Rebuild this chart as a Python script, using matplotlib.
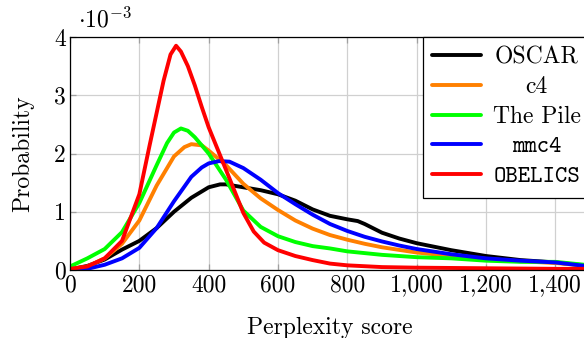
import matplotlib
matplotlib.use("Agg")
import matplotlib.pyplot as plt
from matplotlib.ticker import FuncFormatter, MultipleLocator
from matplotlib.transforms import Affine2D

plt.rcParams['mathtext.fontset'] = 'cm'
plt.rcParams['axes.unicode_minus'] = False
SERIF = 'cmr10'
MONO = 'cmtt10'
FS = 17

# Data (probability in units of 1e-3)
oscar_x = [0, 50, 100, 150, 200, 250, 300, 350, 400, 433, 450, 500, 550, 600, 650, 700, 750, 800, 830, 850, 900, 950, 1000, 1050, 1100, 1200, 1300, 1400, 1500]
oscar_y = [0.01, 0.07, 0.18, 0.35, 0.5, 0.72, 1.0, 1.24, 1.42, 1.47, 1.47, 1.42, 1.37, 1.3, 1.19, 1.04, 0.93, 0.87, 0.84, 0.79, 0.64, 0.54, 0.46, 0.40, 0.34, 0.24, 0.17, 0.13, 0.07]

c4_x = [0, 50, 100, 150, 200, 250, 300, 330, 350, 380, 400, 450, 500, 550, 600, 650, 700, 750, 800, 850, 900, 1000, 1100, 1200, 1300, 1400, 1500]
c4_y = [0.01, 0.06, 0.2, 0.45, 0.85, 1.45, 1.95, 2.11, 2.16, 2.14, 2.05, 1.8, 1.48, 1.23, 1.03, 0.85, 0.71, 0.6, 0.52, 0.45, 0.39, 0.3, 0.24, 0.19, 0.15, 0.12, 0.07]

pile_x = [0, 50, 100, 150, 200, 250, 280, 300, 320, 340, 360, 400, 450, 500, 550, 600, 650, 700, 750, 800, 900, 1000, 1100, 1200, 1300, 1400, 1500]
pile_y = [0.06, 0.2, 0.36, 0.65, 1.15, 1.8, 2.18, 2.36, 2.43, 2.39, 2.28, 2.0, 1.55, 1.02, 0.74, 0.58, 0.48, 0.41, 0.37, 0.32, 0.26, 0.22, 0.2, 0.16, 0.14, 0.14, 0.08]

mmc4_x = [0, 50, 100, 150, 200, 250, 300, 350, 380, 400, 430, 460, 500, 550, 600, 650, 700, 750, 800, 850, 900, 950, 1000, 1100, 1200, 1300, 1400, 1500]
mmc4_y = [0.0, 0.02, 0.09, 0.2, 0.38, 0.72, 1.18, 1.6, 1.76, 1.83, 1.87, 1.86, 1.75, 1.55, 1.32, 1.13, 0.95, 0.79, 0.67, 0.57, 0.49, 0.42, 0.36, 0.27, 0.2, 0.16, 0.13, 0.06]

obelics_x = [0, 50, 100, 150, 200, 230, 250, 270, 290, 306, 320, 340, 360, 380, 400, 450, 500, 530, 560, 600, 650, 700, 750, 800, 900, 1000, 1200, 1400, 1500]
obelics_y = [0.02, 0.06, 0.2, 0.5, 1.3, 2.15, 2.7, 3.25, 3.7, 3.85, 3.75, 3.5, 3.17, 2.8, 2.45, 1.72, 0.98, 0.66, 0.47, 0.34, 0.24, 0.17, 0.11, 0.08, 0.05, 0.04, 0.03, 0.02, 0.02]

series = [
    ("OSCAR", oscar_x, oscar_y, "black", SERIF),
    ("c4", c4_x, c4_y, "#ff8000", SERIF),
    ("The Pile", pile_x, pile_y, "#00ff00", SERIF),
    ("mmc4", mmc4_x, mmc4_y, "#0000ff", MONO),
    ("OBELICS", obelics_x, obelics_y, "#ff0000", MONO),
]

W, H = 584, 338
fig = plt.figure(figsize=(W / 100, H / 100), dpi=100)
left, right, top, bottom = 70, 590, 37, 270
ax = fig.add_axes([left / W, 1 - bottom / H, (right - left) / W, (bottom - top) / H])

for name, xs, ys, col, fam in series:
    ax.plot(xs, ys, color=col, lw=2.8, label=name, solid_joinstyle='round', solid_capstyle='round')

ax.set_xlim(0, 1500)
ax.set_ylim(0, 4)
ax.xaxis.set_major_locator(MultipleLocator(200))
ax.yaxis.set_major_locator(MultipleLocator(1))
ax.xaxis.set_major_formatter(FuncFormatter(lambda v, p: f"{int(round(v)):,}"))
ax.yaxis.set_major_formatter(FuncFormatter(lambda v, p: f"{int(round(v))}"))
ax.grid(True, color='#d0d0d0', lw=0.9)
ax.set_axisbelow(True)
ax.tick_params(direction='in', length=4, width=0.9, color='#a0a0a0', top=True, right=True, labelsize=FS, pad=3)
for lab in ax.get_xticklabels() + ax.get_yticklabels():
    lab.set_fontfamily(SERIF)
for s in ax.spines.values():
    s.set_linewidth(0.9)

ax.set_xlabel("Perplexity score", fontfamily=SERIF, fontsize=FS, labelpad=15)
ax.set_ylabel("Probability", fontfamily=SERIF, fontsize=FS, labelpad=14)
ax.text(0.016, 1.02, r"$\cdot 10^{-3}$", transform=ax.transAxes, fontsize=FS, ha='left', va='bottom')

leg = ax.legend(loc='upper right', bbox_to_anchor=(1, 1), borderaxespad=0, fancybox=False,
                framealpha=1, edgecolor='black', fontsize=FS, handlelength=2.05, handletextpad=0.5,
                labelspacing=0.32, borderpad=0.4)
leg.get_frame().set_linewidth(0.9)
for t, (name, xs, ys, col, fam) in zip(leg.get_texts(), series):
    t.set_fontfamily(fam)

fig.canvas.draw()
texts = leg.get_texts()
widths = [t.get_window_extent().width for t in texts]
mw = max(widths)
for t, w in zip(texts, widths):
    t.set_transform(t.get_transform() + Affine2D().translate((mw - w) / 2, 0))

fig.savefig("out.png", dpi=100)
